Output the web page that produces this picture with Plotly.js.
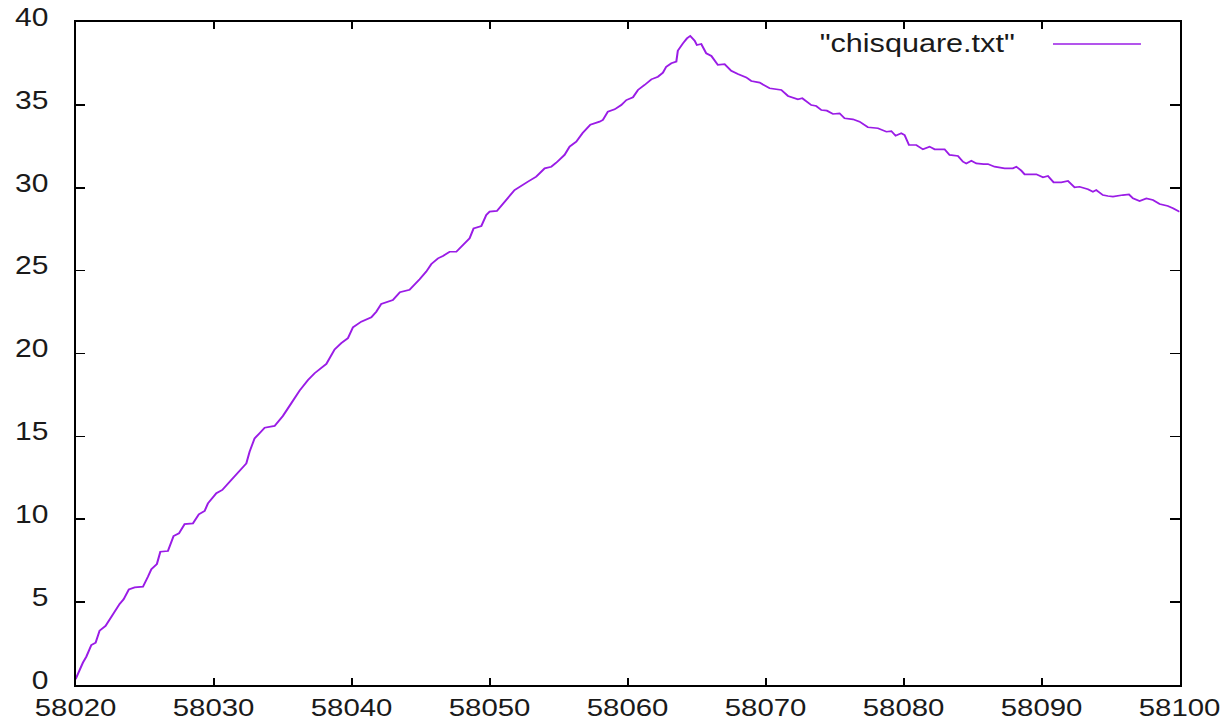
<!DOCTYPE html>
<html>
<head>
<meta charset="utf-8">
<script src="https://cdn.plot.ly/plotly-3.0.1.min.js"></script>
<style>
html, body { margin: 0; padding: 0; background: #fff; overflow: hidden; }
#wrap { width: 1229px; height: 724px; overflow: hidden; }
#chart { width: 1024px; height: 724px; transform: scaleX(1.2); transform-origin: 0 0; }
</style>
</head>
<body>
<div id="wrap"><div id="chart"></div></div>
<script>
const seriesName = '"chisquare.txt"';
const xTicks = [58020, 58030, 58040, 58050, 58060, 58070, 58080, 58090, 58100];
const yTicks = [0, 5, 10, 15, 20, 25, 30, 35, 40];

const mjd = [58020.00, 58020.09, 58020.53, 58020.78, 58021.14, 58021.45, 58021.74, 58022.17, 58022.70, 58023.19,
  58023.48, 58023.86, 58024.28, 58024.88, 58025.24, 58025.49, 58025.89, 58026.14, 58026.69, 58027.10,
  58027.49, 58027.90, 58028.50, 58028.93, 58029.35, 58029.59, 58030.20, 58030.63, 58031.28, 58031.88,
  58032.37, 58032.61, 58032.97, 58033.33, 58033.70, 58034.42, 58035.02, 58035.63, 58036.23, 58036.84,
  58037.32, 58038.17, 58038.77, 58039.25, 58039.73, 58040.10, 58040.70, 58041.43, 58041.79, 58042.15,
  58042.99, 58043.50, 58044.20, 58044.93, 58045.41, 58045.78, 58046.26, 58046.62, 58047.10, 58047.59,
  58048.07, 58048.55, 58048.84, 58049.40, 58049.76, 58050.00, 58050.53, 58051.21, 58051.81, 58052.78,
  58053.38, 58053.99, 58054.47, 58054.83, 58055.43, 58055.80, 58056.28, 58056.74, 58057.30, 58057.97,
  58058.21, 58058.57, 58059.06, 58059.54, 58059.91, 58060.39, 58060.75, 58061.23, 58061.72, 58062.20,
  58062.56, 58062.80, 58063.17, 58063.53, 58063.64, 58064.01, 58064.30, 58064.54, 58064.86, 58065.02,
  58065.34, 58065.70, 58066.07, 58066.54, 58067.03, 58067.51, 58067.99, 58068.60, 58068.96, 58069.57,
  58070.29, 58071.14, 58071.62, 58072.34, 58072.66, 58073.31, 58073.67, 58074.04, 58074.44, 58074.88,
  58075.36, 58075.72, 58076.33, 58076.81, 58077.41, 58078.14, 58078.75, 58079.11, 58079.42, 58079.83,
  58080.07, 58080.39, 58080.92, 58081.40, 58081.88, 58082.25, 58082.97, 58083.33, 58083.94, 58084.30,
  58084.54, 58084.91, 58085.27, 58085.80, 58086.11, 58086.59, 58087.32, 58087.92, 58088.17, 58088.53,
  58088.77, 58089.62, 58090.10, 58090.46, 58090.87, 58091.43, 58091.91, 58092.39, 58092.75, 58093.36,
  58093.72, 58093.96, 58094.44, 58094.80, 58095.17, 58095.89, 58096.33, 58096.62, 58097.10, 58097.59,
  58098.07, 58098.55, 58099.15, 58099.52, 58099.88, 58100.00];

const chisq = [0.35, 0.54, 1.35, 1.71, 2.41, 2.55, 3.28, 3.56, 4.27, 4.89,
  5.17, 5.77, 5.89, 5.93, 6.53, 6.98, 7.30, 8.04, 8.08, 8.99,
  9.15, 9.71, 9.75, 10.30, 10.50, 10.96, 11.57, 11.77, 12.37, 12.93,
  13.37, 14.08, 14.88, 15.19, 15.52, 15.63, 16.23, 17.00, 17.76, 18.40,
  18.81, 19.37, 20.25, 20.62, 20.92, 21.58, 21.92, 22.18, 22.52, 22.99,
  23.23, 23.70, 23.85, 24.48, 24.94, 25.40, 25.74, 25.88, 26.14, 26.14,
  26.55, 26.95, 27.55, 27.69, 28.36, 28.56, 28.60, 29.30, 29.86, 30.37,
  30.67, 31.17, 31.27, 31.51, 31.98, 32.48, 32.78, 33.30, 33.80, 33.99,
  34.09, 34.59, 34.73, 34.99, 35.29, 35.46, 35.90, 36.20, 36.54, 36.70,
  36.94, 37.30, 37.51, 37.61, 38.27, 38.71, 39.01, 39.16, 38.87, 38.61,
  38.67, 38.11, 37.95, 37.41, 37.45, 37.06, 36.86, 36.66, 36.44, 36.34,
  36.00, 35.90, 35.54, 35.34, 35.40, 34.99, 34.93, 34.69, 34.65, 34.45,
  34.49, 34.19, 34.13, 33.99, 33.65, 33.59, 33.38, 33.42, 33.14, 33.29,
  33.18, 32.58, 32.58, 32.32, 32.48, 32.32, 32.32, 31.98, 31.92, 31.57,
  31.47, 31.63, 31.47, 31.43, 31.43, 31.27, 31.17, 31.17, 31.27, 31.03,
  30.81, 30.81, 30.63, 30.71, 30.33, 30.33, 30.41, 30.03, 30.06, 29.91,
  29.76, 29.86, 29.56, 29.50, 29.46, 29.56, 29.60, 29.36, 29.20, 29.36,
  29.26, 29.02, 28.90, 28.76, 28.62, 28.55];

const lineColor = '#9a1ce6';
const textColor = '#1a1a1a';
const fontFamily = '"Liberation Sans", Arial, Helvetica, sans-serif';

const trace = {
  x: mjd, y: chisq, type: 'scatter', mode: 'lines', name: seriesName,
  line: { color: lineColor, width: 1.7 }, showlegend: false, hoverinfo: 'x+y'
};

const axisCommon = {
  showline: true, linecolor: '#000', linewidth: 1.6, mirror: 'ticks',
  ticks: 'inside', tickcolor: '#000', tickwidth: 1.6,
  showgrid: false, zeroline: false, tickformat: 'd'
};

const layout = {
  width: 1024, height: 724,
  margin: { l: 63, r: 41, t: 22, b: 39, pad: 0 },
  paper_bgcolor: '#fff', plot_bgcolor: '#fff',
  font: { family: fontFamily, color: textColor },
  xaxis: Object.assign({}, axisCommon, {
    range: [xTicks[0], xTicks[xTicks.length - 1]],
    tickmode: 'array', tickvals: xTicks, ticktext: xTicks.map(String),
    ticklen: 7, ticklabelstandoff: 0,
    tickfont: { family: fontFamily, size: 24.5, color: textColor }
  }),
  yaxis: Object.assign({}, axisCommon, {
    range: [yTicks[0], yTicks[yTicks.length - 1]],
    tickmode: 'array', tickvals: yTicks, ticktext: yTicks.map(String),
    ticklen: 8, ticklabelstandoff: 16, ticklabelshift: -5,
    tickfont: { family: fontFamily, size: 25, color: textColor }
  }),
  annotations: [{
    xref: 'paper', yref: 'paper', x: 0.8536, y: 0.969,
    xanchor: 'right', yanchor: 'middle', showarrow: false,
    text: seriesName, font: { family: fontFamily, size: 25.5, color: textColor }
  }],
  shapes: [{
    type: 'line', xref: 'paper', yref: 'paper',
    x0: 0.8853, x1: 0.965, y0: 0.9668, y1: 0.9668,
    line: { color: lineColor, width: 1.7 }
  }]
};

Plotly.newPlot('chart', [trace], layout, { displayModeBar: false, staticPlot: true });
</script>
</body>
</html>
